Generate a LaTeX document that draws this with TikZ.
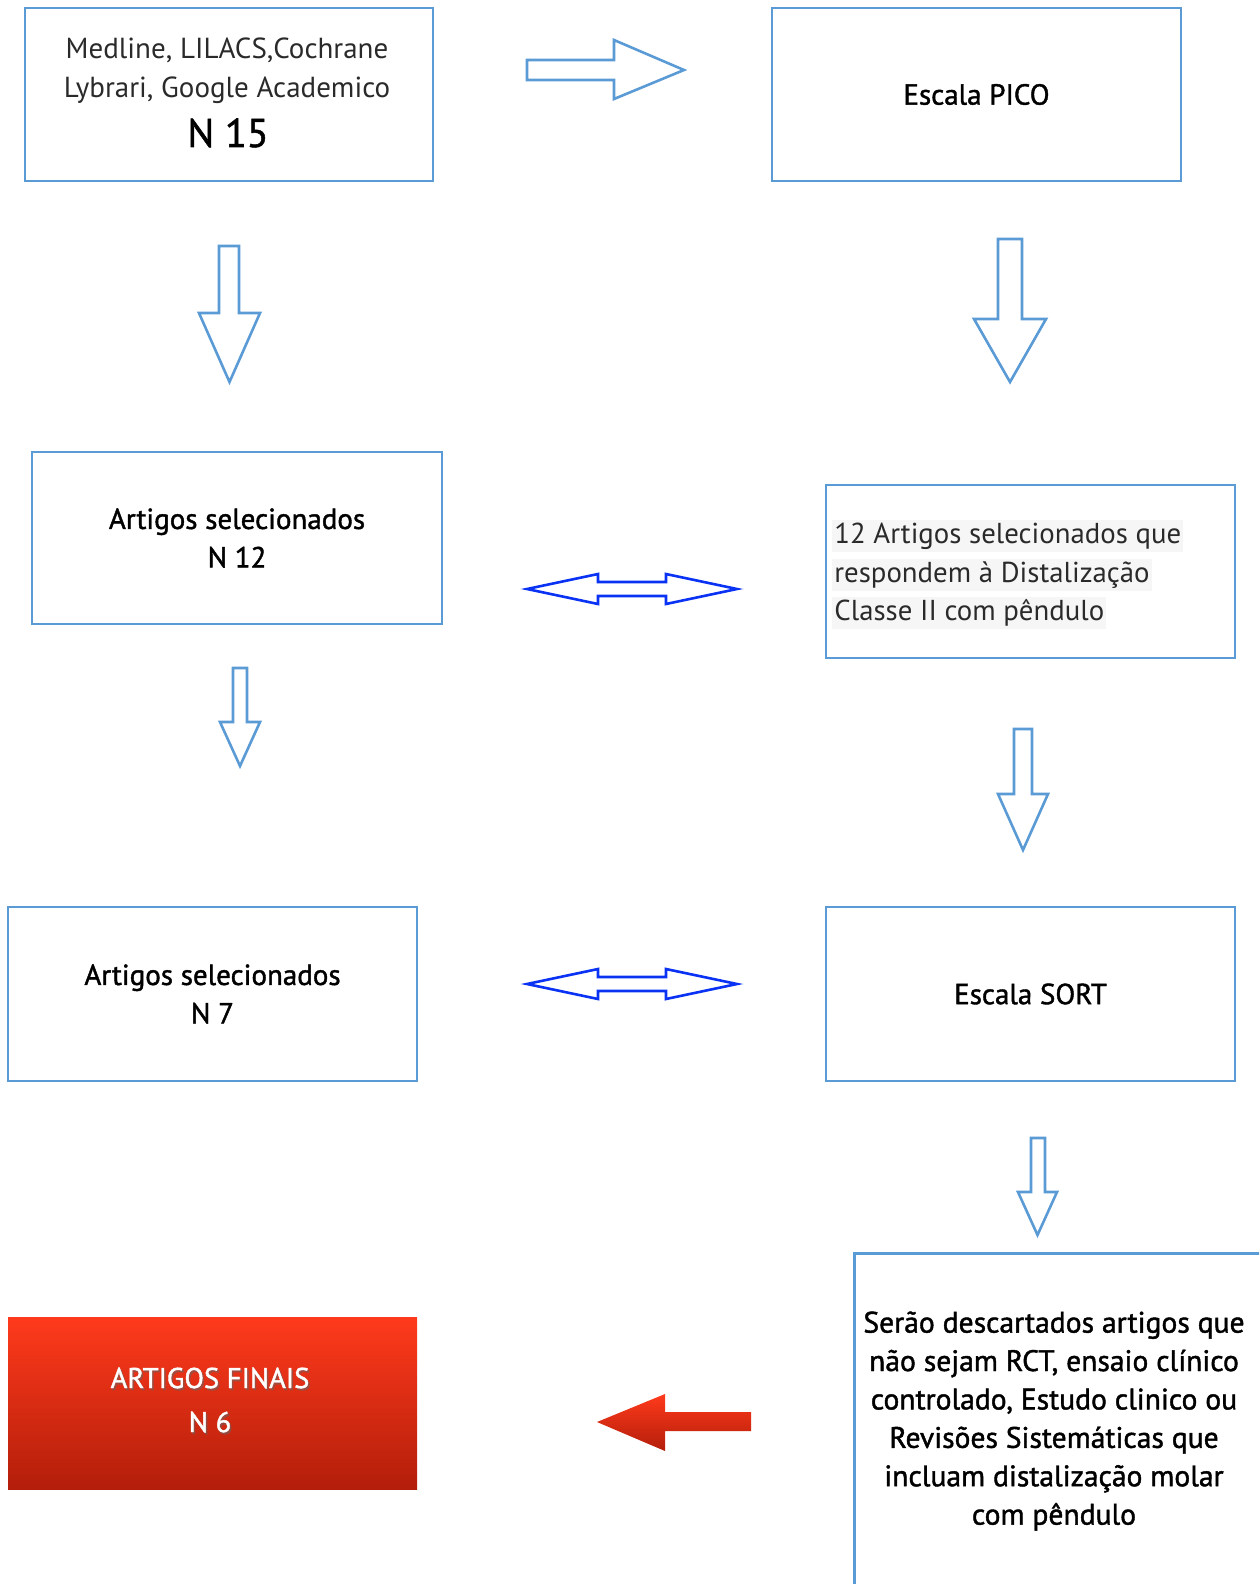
\documentclass[tikz,border=0pt]{standalone}
\usepackage{fontspec}
\setmainfont{PT Sans}
\newfontfamily\medfont[FakeBold=1.4]{PT Sans}
\definecolor{boxblue}{HTML}{5B9BD5}
\definecolor{dblue}{HTML}{0A32F5}
\definecolor{redtop}{HTML}{FF3A1C}
\definecolor{redbot}{HTML}{B31E0A}
\definecolor{hl}{HTML}{F6F6F6}
\definecolor{txtgray}{HTML}{2A2A2A}
\tikzset{
  box/.style={draw=boxblue, line width=1.3pt, inner sep=0pt, align=center, font=\medfont\fontsize{14.5}{19.2}\selectfont},
  blockarrow/.style={draw=boxblue, line width=1.3pt, line join=miter, fill=white},
  dblarrow/.style={draw=dblue, line width=1.3pt, line join=miter, fill=white},
  hlline/.style={fill=hl, inner xsep=1pt, inner ysep=1.5pt, anchor=west, text=txtgray, font=\fontsize{14.4}{16}\selectfont},
}
\begin{document}
\begin{tikzpicture}[x=0.5pt,y=-0.5pt]
\useasboundingbox (0,0) rectangle (1259,1584);
\clip (0,0) rectangle (1259,1584);

% boxes
\node[box, minimum width=204pt, minimum height=86.5pt] (src) at (229,94.5) {};
\node[text=txtgray, align=center, font=\fontsize{14.5}{19.5}\selectfont] (srctxt) at (227,71)
  {Medline, LILACS,Cochrane\\Lybrari, Google Academico};
\node[font=\medfont\fontsize{20}{22}\selectfont] (n15) at (228,133) {N 15};
\node[box, minimum width=204.5pt, minimum height=86.5pt] (pico) at (976.5,94.5) {Escala PICO};
\node[box, minimum width=205pt, minimum height=86pt] (sel12) at (237,538) {Artigos selecionados\\N 12};
\node[box, minimum width=204.5pt, minimum height=86.5pt] (art12) at (1030.5,571.5) {};
\node[hlline] (l1) at (832,536) {12 Artigos selecionados que};
\node[hlline] (l2) at (832,575) {respondem à Distalização};
\node[hlline] (l3) at (832,613) {Classe II com pêndulo};
\node[box, minimum width=204.5pt, minimum height=87pt] (sel7) at (212.5,994) {Artigos selecionados\\N 7};
\node[box, minimum width=204.5pt, minimum height=87pt] (sort) at (1030.5,994) {Escala SORT};
\node[box, minimum width=220pt, minimum height=200pt, anchor=north west] (disc) at (853,1252) {};
\node[align=center, font=\medfont\fontsize{14.8}{19.2}\selectfont] (disctxt) at (1054,1421)
  {Serão descartados artigos que\\não sejam RCT, ensaio clínico\\controlado, Estudo clinico ou\\Revisões Sistemáticas que\\incluam distalização molar\\com pêndulo};
\shade[top color=redtop, bottom color=redbot] (8,1317) rectangle (417,1489);
\node[inner sep=0pt, minimum width=204.5pt, minimum height=86pt] (final) at (212.5,1403) {};
\node[text=black!60, opacity=0.5, align=center, font=\medfont\fontsize{14.3}{22}\selectfont] at (211.5,1402) {ARTIGOS FINAIS\\N 6};
\node[text=white, align=center, font=\medfont\fontsize{14.3}{22}\selectfont] (finaltxt) at (210,1400) {ARTIGOS FINAIS\\N 6};

% right arrow top
\draw[blockarrow] (527,60) -- (614,60) -- (614,40) -- (684,70) -- (614,99) -- (614,80) -- (527,80) -- cycle;
% down arrows
\draw[blockarrow] (219,246) -- (239,246) -- (239,313) -- (260,313) -- (229.5,382) -- (199,313) -- (219,313) -- cycle;
\draw[blockarrow] (998,239) -- (1022,239) -- (1022,319) -- (1046,319) -- (1010,382) -- (974,319) -- (998,319) -- cycle;
\draw[blockarrow] (233,668) -- (247,668) -- (247,722) -- (260,722) -- (240,766) -- (220,722) -- (233,722) -- cycle;
\draw[blockarrow] (1014,729) -- (1032,729) -- (1032,794) -- (1048,794) -- (1023,850) -- (998,794) -- (1014,794) -- cycle;
\draw[blockarrow] (1031,1138) -- (1045,1138) -- (1045,1192) -- (1057,1192) -- (1037.5,1235) -- (1018,1192) -- (1031,1192) -- cycle;

% double arrows
\foreach \cy in {589,984}{
\draw[dblarrow] (527,\cy) -- (598,\cy-15) -- (598,\cy-7) -- (666,\cy-7) -- (666,\cy-15) -- (737,\cy) -- (666,\cy+15) -- (666,\cy+7) -- (598,\cy+7) -- (598,\cy+15) -- cycle;
}

% red arrow
\shade[top color=redtop, bottom color=redbot] (597,1422) -- (665,1394) -- (665,1412) -- (751,1412) -- (751,1431) -- (665,1431) -- (665,1451) -- cycle;
\end{tikzpicture}
\end{document}
